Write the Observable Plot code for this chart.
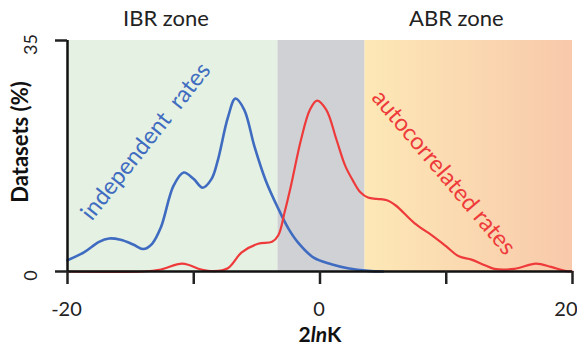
<!DOCTYPE html>
<html>
<head>
<meta charset="utf-8">
<script src="https://cdn.jsdelivr.net/npm/d3@7"></script>
<script src="https://cdn.jsdelivr.net/npm/@observablehq/plot@0.6"></script>
<style>
  html, body { margin: 0; padding: 0; background: #fff; }
  svg { font-family: Lato, "Open Sans", sans-serif; }
</style>
</head>
<body>
<div id="chart"></div>
<script>
// x-axis ticks and labelled ticks
const xTicks = [-20, -10, 0, 10, 20];
const xTickLabels = [-20, 0];
const xTickLabelsEnd = [20];
const yTicks = [0, 35];

// zones (2lnK)
const zoneNames = ["IBR zone", "ABR zone"];
const zoneLabelX = [-12.2, 10.8];
const bandStart = [-20, -3.33, 3.57];
const bandEnd = [-3.33, 3.57, 20];
const bandFill = ["#E5F1E3", "#D0D1D5", "url(#abrGrad)"];

// independent rates (blue)
const blueX = [-20, -18.7, -17.5, -16.7, -15.8, -14.8, -14, -13.3, -12.6, -11.6, -10.8, -10, -9.3, -8.6, -8.1, -7.3, -6.7, -6.0, -5.2, -4.3, -3.3, -2.5, -1.7, -0.5, 0.9, 2.2, 3.8, 5];
const blueY = [1.7, 2.9, 4.5, 5.0, 4.8, 4.1, 3.4, 4.2, 6.7, 13.0, 15.0, 14.0, 12.7, 14.0, 16.8, 23.3, 26.2, 24.5, 19.0, 13.8, 9.5, 6.5, 4.3, 2.1, 1.1, 0.5, 0.1, 0];

// autocorrelated rates (red)
const redX = [-20, -14, -12.6, -10.9, -9.4, -8.4, -7.3, -6.2, -4.9, -3.8, -3.3, -2.8, -2.3, -1.5, -0.8, -0.24, 0.5, 1.3, 2, 2.6, 3.2, 3.8, 4.5, 5.3, 6, 7.5, 9, 10, 11, 12, 13, 13.8, 15.4, 17.1, 18.3, 19.4, 20];
const redY = [0, 0, 0.3, 1.2, 0.3, 0.05, 0.5, 2.9, 4.2, 4.5, 5.5, 9, 13, 20, 24.5, 25.9, 24.5, 20, 16, 13.8, 12, 11.2, 11, 10.8, 10, 7.3, 5.3, 3.8, 2.3, 1.8, 1.0, 0.4, 0.4, 1.2, 0.7, 0.1, 0];

const seriesNames = ["independent  rates", "autocorrelated rates"];
const seriesLabelX = [-13.8, 9.8];
const seriesLabelY = [19.7, 15.0];
const seriesAngle = [-51.6, 49.7];
const seriesColor = ["#3F6CC0", "#EE3A3A"];

const blue = blueX.map((x, i) => ({x, y: blueY[i]}));
const red = redX.map((x, i) => ({x, y: redY[i]}));
const bands = bandStart.map((s, i) => ({s, e: bandEnd[i], f: bandFill[i]}));
const zones = zoneNames.map((t, i) => ({t, x: zoneLabelX[i]}));
const labels = seriesNames.map((t, i) => ({t, x: seriesLabelX[i], y: seriesLabelY[i], r: seriesAngle[i], c: seriesColor[i]}));

const chart = Plot.plot({
  width: 577,
  height: 351,
  marginLeft: 67,
  marginRight: 5,
  marginTop: 40,
  marginBottom: 80,
  x: {domain: [-20, 20]},
  y: {domain: [0, 35]},
  style: {fontFamily: "Lato, 'Open Sans', sans-serif", color: "#222"},
  marks: [
    Plot.rect(bands, {x1: "s", x2: "e", y1: 0, y2: 35, fill: d => d.f}),
    Plot.line(blue, {x: "x", y: "y", stroke: seriesColor[0], strokeWidth: 2.6, curve: "catmull-rom"}),
    Plot.line(red, {x: "x", y: "y", stroke: seriesColor[1], strokeWidth: 2.2, curve: "catmull-rom"}),
    Plot.text(labels, {x: "x", y: "y", text: "t", rotate: "r", fill: "c", fontSize: 23.5}),
    Plot.ruleX([-20], {y1: 0, y2: 35, stroke: "#111", strokeWidth: 2.5}),
    Plot.ruleY([0], {x1: -20, x2: 20, stroke: "#111", strokeWidth: 2.5}),
    Plot.axisY({ticks: yTicks, tickSize: 12, tickFormat: () => "", strokeWidth: 2.5, label: null}),
    Plot.axisX({ticks: xTicks, tickSize: 13, tickFormat: () => "", strokeWidth: 2.5, label: null}),
    Plot.text(xTickLabels, {x: d => d, y: 0, text: d => String(d), dx: -1, dy: 38, fontSize: 20, fill: "#222"}),
    Plot.text(xTickLabelsEnd, {x: d => d, y: 0, text: d => String(d), textAnchor: "end", dx: 5, dy: 38, fontSize: 20, fill: "#222"}),
    Plot.text(yTicks, {x: -20, y: d => d, text: d => String(d), rotate: -90, dx: -36, dy: 4, fontSize: 18, fill: "#222"}),
    Plot.text(["Datasets (%)"], {frameAnchor: "left", textAnchor: "middle", text: d => d, rotate: -90, dx: -47, dy: -14, fontSize: 22, fontWeight: "bold", fill: "#111"}),
    Plot.text(["2lnK"], {frameAnchor: "bottom", text: d => d, dy: 70, fontSize: 21, fontWeight: "bold", fill: "#111", className: "xlabel"}),
    Plot.text(zones, {x: "x", y: 35, text: "t", dy: -22, fontSize: 22, fill: "#222"})
  ]
});

// gradient for the ABR zone
const defs = d3.select(chart).insert("defs", ":first-child");
const grad = defs.append("linearGradient").attr("id", "abrGrad").attr("x1", "0%").attr("x2", "100%").attr("y1", "0%").attr("y2", "0%");
grad.append("stop").attr("offset", "0%").attr("stop-color", "#FDE8B6");
grad.append("stop").attr("offset", "100%").attr("stop-color", "#F8C9AB");

// italic "ln" in the x label
d3.select(chart).selectAll(".xlabel text").each(function() {
  const t = d3.select(this);
  t.text(null);
  t.append("tspan").text("2");
  t.append("tspan").attr("font-style", "italic").text("ln");
  t.append("tspan").text("K");
});

document.getElementById("chart").appendChild(chart);
</script>
</body>
</html>
